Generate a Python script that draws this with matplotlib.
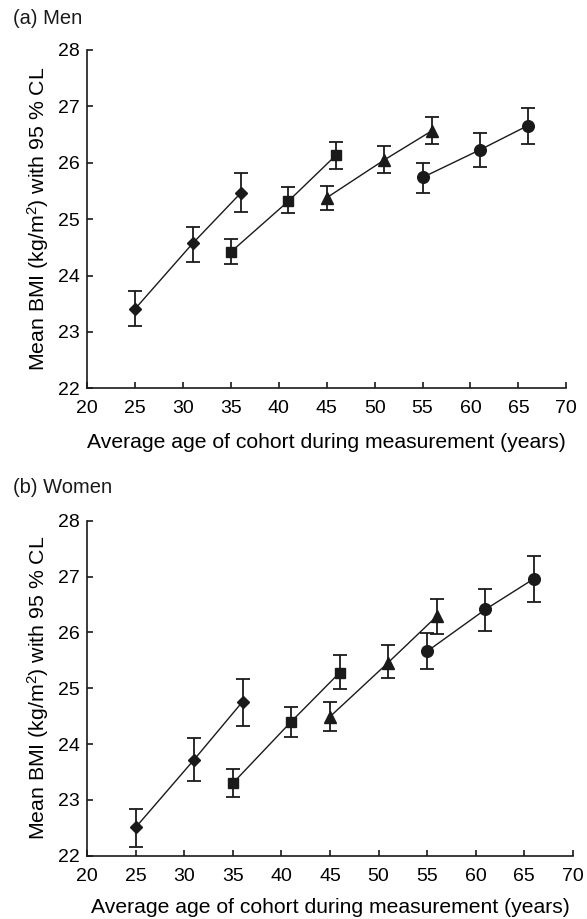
import matplotlib
matplotlib.use("Agg")
import matplotlib.pyplot as plt

plt.rcParams["font.family"] = ["Liberation Sans", "DejaVu Sans"]
plt.rcParams["mathtext.fontset"] = "custom"
plt.rcParams["mathtext.rm"] = "Liberation Sans"
plt.rcParams["mathtext.it"] = "Liberation Sans:italic"

# cohort ages (years) for each marker series
ages_diamond = [25, 31, 36]
ages_square = [35, 41, 46]
ages_triangle = [45, 51, 56]
ages_circle = [55, 61, 66]

# men: mean BMI, lower CL, upper CL
men_diamond = [23.41, 24.57, 25.46]
men_diamond_lo = [23.11, 24.24, 25.13]
men_diamond_hi = [23.72, 24.86, 25.81]
men_square = [24.42, 25.32, 26.14]
men_square_lo = [24.21, 25.10, 25.89]
men_square_hi = [24.64, 25.57, 26.36]
men_triangle = [25.38, 26.05, 26.57]
men_triangle_lo = [25.16, 25.81, 26.33]
men_triangle_hi = [25.59, 26.29, 26.82]
men_circle = [25.74, 26.23, 26.66]
men_circle_lo = [25.46, 25.92, 26.33]
men_circle_hi = [26.00, 26.52, 26.98]

# women: mean BMI, lower CL, upper CL
women_diamond = [22.51, 23.72, 24.76]
women_diamond_lo = [22.15, 23.33, 24.32]
women_diamond_hi = [22.83, 24.10, 25.17]
women_square = [23.30, 24.40, 25.28]
women_square_lo = [23.05, 24.13, 24.98]
women_square_hi = [23.55, 24.67, 25.59]
women_triangle = [24.49, 25.46, 26.29]
women_triangle_lo = [24.23, 25.18, 25.97]
women_triangle_hi = [24.76, 25.78, 26.60]
women_circle = [25.66, 26.41, 26.96]
women_circle_lo = [25.34, 26.02, 26.55]
women_circle_hi = [25.99, 26.77, 27.37]

x_ticks = [20, 25, 30, 35, 40, 45, 50, 55, 60, 65, 70]
y_ticks = [22, 23, 24, 25, 26, 27, 28]

MARKERS = {"diamond": ("D", 6.5), "square": ("s", 7.8), "triangle": ("^", 8.0), "circle": ("o", 8.4)}


def draw_series(axis, ages, mean, lo, hi, kind):
    marker, size = MARKERS[kind]
    yerr = [[m - l for m, l in zip(mean, lo)], [h - m for m, h in zip(mean, hi)]]
    axis.errorbar(
        ages, mean, yerr=yerr, color="#1a1a1a", marker=marker, markersize=size,
        linewidth=1.0, elinewidth=1.3, capsize=4.7, capthick=1.3,
    )


def style_axis(axis, xtick_pad, xlabel_pad):
    axis.set_xlim(20, 70)
    axis.set_ylim(22, 28)
    axis.set_xticks(x_ticks)
    axis.set_yticks(y_ticks)
    axis.spines["top"].set_visible(False)
    axis.spines["right"].set_visible(False)
    for side in ("left", "bottom"):
        axis.spines[side].set_linewidth(1.2)
        axis.spines[side].set_color("#1a1a1a")
    axis.tick_params(direction="in", length=4, width=1.2, labelsize=14, color="#1a1a1a")
    axis.tick_params(axis="x", pad=xtick_pad)
    axis.tick_params(axis="y", pad=5.5)
    axis.set_xlabel("Average age of cohort during measurement (years)", fontsize=15.2, labelpad=xlabel_pad)
    axis.set_ylabel("Mean BMI (kg/m$^2$) with 95 % CL", fontsize=15.3, labelpad=5)


fig = plt.figure(figsize=(5.87, 9.19), dpi=100)
ax_men = fig.add_axes([0.1487, 0.5775, 0.816, 0.3681])
ax_women = fig.add_axes([0.1487, 0.0689, 0.827, 0.3645])

draw_series(ax_men, ages_diamond, men_diamond, men_diamond_lo, men_diamond_hi, "diamond")
draw_series(ax_men, ages_square, men_square, men_square_lo, men_square_hi, "square")
draw_series(ax_men, ages_triangle, men_triangle, men_triangle_lo, men_triangle_hi, "triangle")
draw_series(ax_men, ages_circle, men_circle, men_circle_lo, men_circle_hi, "circle")

draw_series(ax_women, ages_diamond, women_diamond, women_diamond_lo, women_diamond_hi, "diamond")
draw_series(ax_women, ages_square, women_square, women_square_lo, women_square_hi, "square")
draw_series(ax_women, ages_triangle, women_triangle, women_triangle_lo, women_triangle_hi, "triangle")
draw_series(ax_women, ages_circle, women_circle, women_circle_lo, women_circle_hi, "circle")

style_axis(ax_men, 8.5, 11.5)
style_axis(ax_women, 9, 9)

fig.text(0.0227, 0.980, "(a) Men", fontsize=14.5, va="center", color="#1a1a1a")
fig.text(0.0227, 0.469, "(b) Women", fontsize=14.5, va="center", color="#1a1a1a")

fig.savefig("out.png", dpi=100)
